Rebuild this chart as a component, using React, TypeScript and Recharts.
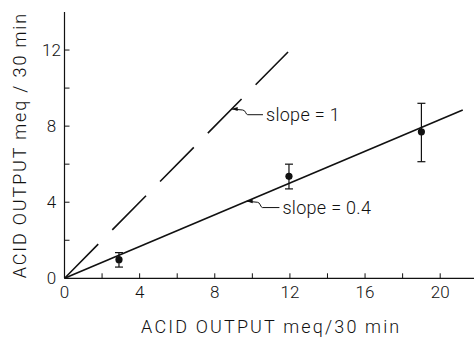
import React from 'react';
import { ComposedChart, XAxis, YAxis, Line, Scatter, ErrorBar, ReferenceDot } from 'recharts';

const X_TICKS = [0, 2, 4, 6, 8, 10, 12, 14, 16, 18, 20];
const X_LABELED = [0, 4, 8, 12, 16, 20];
const Y_TICKS = [0, 2, 4, 6, 8, 10, 12];
const Y_LABELED = [0, 4, 8, 12];

const fitLine = [
  { x: 0, y: 0 },
  { x: 21.2, y: 8.85 },
];
const identityLine = [
  { x: 0, y: 0 },
  { x: 11.9, y: 11.9 },
];
const measured = [
  { x: 2.9, y: 0.98, err: [0.39, 0.37] },
  { x: 11.95, y: 5.36, err: [0.66, 0.64] },
  { x: 19.0, y: 7.7, err: [1.57, 1.5] },
];
const slopeOneAnchor = { x: 8.9, y: 8.9, text: 'slope = 1' };
const slopeFitAnchor = { x: 9.7, y: 4.05, text: 'slope = 0.4' };

const FONT = 'Roboto, Liberation Sans, Arial, sans-serif';
const WEIGHT = 300;
const INK = '#111';

const XTick = (props: any) => {
  const { x, y, payload } = props;
  const v = payload.value;
  return (
    <g>
      <line x1={x} y1={y} x2={x} y2={y - 5} stroke={INK} strokeWidth={1} />
      {X_LABELED.includes(v) && (
        <text x={x} y={y + 20} textAnchor="middle" fontSize={17} fontFamily={FONT} fontWeight={WEIGHT} fill={INK}>
          {v}
        </text>
      )}
    </g>
  );
};

const YTick = (props: any) => {
  const { x, y, payload } = props;
  const v = payload.value;
  return (
    <g>
      <line x1={x} y1={y} x2={x + 5} y2={y} stroke={INK} strokeWidth={1} />
      {Y_LABELED.includes(v) && (
        <text x={x - 13} y={y + 6} textAnchor="middle" fontSize={17} fontFamily={FONT} fontWeight={WEIGHT} fill={INK}>
          {v}
        </text>
      )}
    </g>
  );
};

const makeLeader = (text: string, pts: { end: number; drop: number; tx: number; ty: number }) => (props: any) => {
  const { cx, cy } = props;
  const { end, drop, tx, ty } = pts;
  return (
    <g>
      <path d={`M${cx},${cy} l6,-2 l0,4 z`} fill={INK} />
      <path
        d={`M${cx},${cy} L${cx + end},${cy + 1} C${cx + end + 3},${cy + 1} ${cx + end + 3},${cy + drop} ${cx + end + 5},${cy + drop} L${cx + tx - 3},${cy + drop}`}
        fill="none"
        stroke={INK}
        strokeWidth={1}
      />
      <text x={cx + tx} y={cy + ty} fontSize={18} fontFamily={FONT} fontWeight={WEIGHT} fill={INK} letterSpacing={0.3}>
        {text}
      </text>
    </g>
  );
};

const Dot = (props: any) => <circle cx={props.cx} cy={props.cy} r={3.6} fill={INK} />;

export default function App() {
  return (
    <div style={{ position: 'absolute', left: 0, top: 0 }}>
      <ComposedChart width={474} height={337} margin={{ top: 12, right: 0, bottom: 0, left: 0 }}>
        <XAxis
          type="number"
          dataKey="x"
          domain={[0, 21.8]}
          ticks={X_TICKS}
          interval={0}
          allowDataOverflow
          height={58.7}
          tickSize={0}
          tickMargin={0}
          tickLine={false}
          tick={<XTick />}
          stroke={INK}
          strokeWidth={1.2}
          label={{
            content: (p: any) => {
              const vb = p.viewBox;
              return (
                <text x={vb.x + vb.width / 2 + 2} y={vb.y + 55} textAnchor="middle" fontSize={18} fontFamily={FONT} fontWeight={WEIGHT} fill={INK} letterSpacing={2.15}>
                  ACID OUTPUT  meq/30 min
                </text>
              );
            },
          }}
        />
        <YAxis
          type="number"
          dataKey="y"
          domain={[0, 14]}
          ticks={Y_TICKS}
          interval={0}
          width={64.5}
          tickSize={0}
          tickMargin={0}
          tickLine={false}
          tick={<YTick />}
          stroke={INK}
          strokeWidth={1.2}
          label={{
            content: (p: any) => {
              const vb = p.viewBox;
              const cy = vb.y + vb.height / 2 + 0;
              return (
                <text x={26} y={cy} transform={`rotate(-90 26 ${cy})`} textAnchor="middle" fontSize={18} fontFamily={FONT} fontWeight={WEIGHT} fill={INK} letterSpacing={1.85}>
                  ACID OUTPUT  meq / 30 min
                </text>
              );
            },
          }}
        />
        <Line data={identityLine} dataKey="y" stroke={INK} strokeWidth={1.6} strokeDasharray="48 20" dot={false} isAnimationActive={false} />
        <Line data={fitLine} dataKey="y" stroke={INK} strokeWidth={1.6} dot={false} isAnimationActive={false} />
        <Scatter data={measured} dataKey="y" shape={<Dot />} isAnimationActive={false}>
          <ErrorBar dataKey="err" direction="y" width={4} stroke={INK} strokeWidth={1.2} isAnimationActive={false} />
        </Scatter>
        <ReferenceDot
          x={slopeOneAnchor.x}
          y={slopeOneAnchor.y}
          shape={makeLeader(slopeOneAnchor.text, { end: 11, drop: 5.7, tx: 34.3, ty: 12 })}
        />
        <ReferenceDot
          x={slopeFitAnchor.x}
          y={slopeFitAnchor.y}
          shape={makeLeader(slopeFitAnchor.text, { end: 10.7, drop: 6.3, tx: 35.7, ty: 13 })}
        />
      </ComposedChart>
    </div>
  );
}
